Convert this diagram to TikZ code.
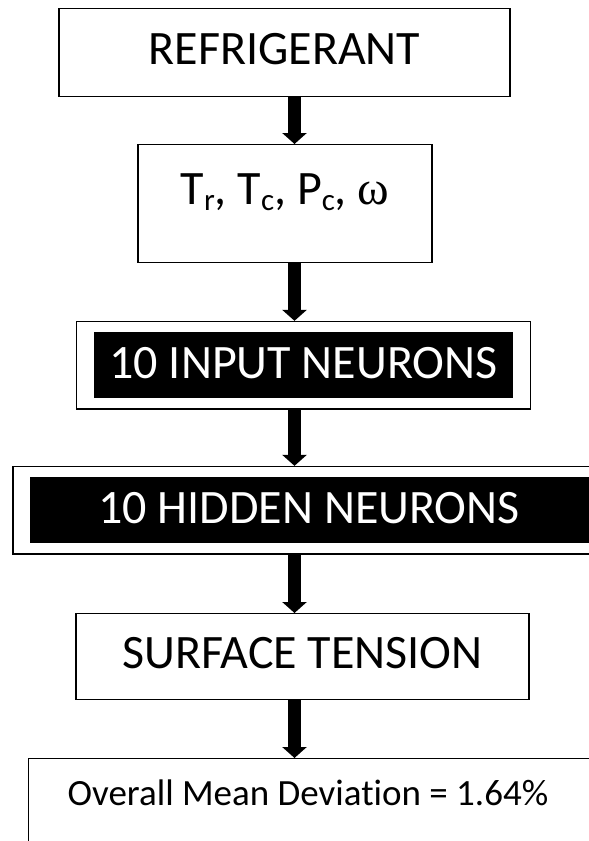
\documentclass[tikz,border=0pt]{standalone}
\usepackage{fontspec}
\setmainfont[Ligatures=NoCommon]{Carlito}
\newfontfamily\omegafont{Liberation Serif}
\usetikzlibrary{arrows.meta,fit}

\newcommand\lowsub[1]{\raisebox{-6pt}{\fontsize{31}{31}\selectfont #1}}

\tikzset{
  plainbox/.style={draw, line width=1.3pt, inner xsep=0pt, inner ysep=0pt},
  neuronbox/.style={fill=black, text=white, inner ysep=0pt, text height=46pt, text depth=20pt, font=\fontsize{48}{50}\selectfont},
  framebox/.style={draw, line width=1.3pt, inner xsep=17pt, inner ysep=10.5pt},
  flow/.style={line width=13pt, -{Triangle[width=24pt,length=11pt]}},
}

\begin{document}
\begin{tikzpicture}[x=1pt,y=-1pt]
\clip (0,0) rectangle (589,841);
\coordinate (axis) at (294.5,0);
%
\node[plainbox, anchor=north, minimum width=451pt, text height=56pt, text depth=32pt, font=\fontsize{48}{50}\selectfont] (refr) at (284.5,8) {REFRIGERANT};
\node[plainbox, anchor=north, minimum width=294pt, text height=60pt, text depth=58pt, font=\fontsize{48}{50}\selectfont] (props) at (285,144) {T\lowsub{r}, T\lowsub{c}, P\lowsub{c}, {\omegafont ω}};
%
\node[neuronbox, anchor=north, minimum width=419pt] (input) at (303.5,332) {10 INPUT NEURONS};
\node[framebox, fit=(input)] (inframe) {};
%
\node[neuronbox, anchor=north west, text width=480pt, align=flush left, inner xsep=68pt] (hidden) at (30,477) {10 HIDDEN NEURONS};
\node[framebox, fit=(hidden)] (hidframe) {};
%
\node[plainbox, anchor=north, minimum width=453pt, text height=55pt, text depth=31pt, font=\fontsize{48}{50}\selectfont] (surf) at (302.5,613) {SURFACE TENSION};
\node[plainbox, anchor=north west, text width=600pt, align=flush left, inner xsep=39pt, text height=47pt, text depth=100pt, font=\fontsize{37}{40}\selectfont] (dev) at (28,758) {Overall Mean Deviation = 1.64\%};
%
\draw[flow] (refr.south -| axis) -- (props.north -| axis);
\draw[flow] (props.south -| axis) -- (inframe.north -| axis);
\draw[flow] (inframe.south -| axis) -- (hidframe.north -| axis);
\draw[flow] (hidframe.south -| axis) -- (surf.north -| axis);
\draw[flow] (surf.south -| axis) -- (dev.north -| axis);
\end{tikzpicture}
\end{document}
